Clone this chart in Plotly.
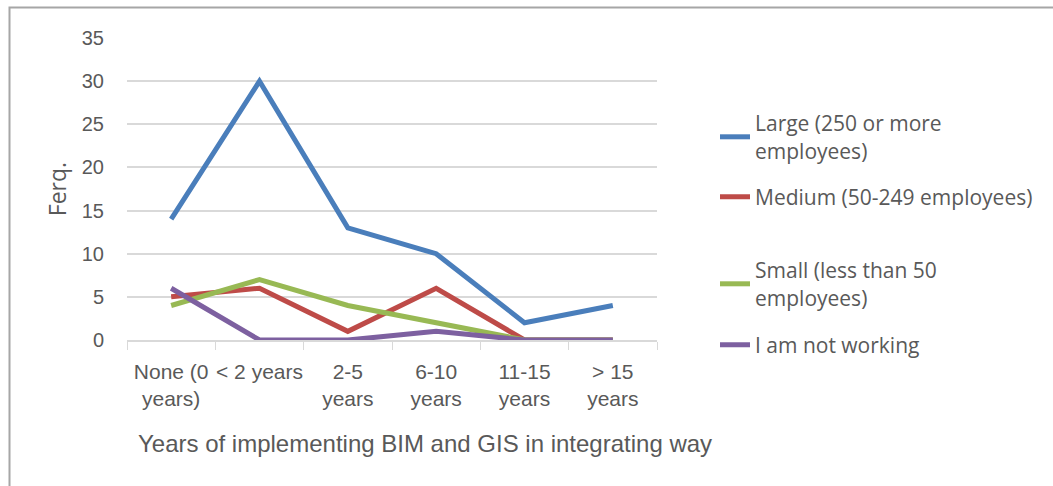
import plotly.graph_objects as go

categories = ["None (0<br>years)", "< 2 years", "2-5<br>years", "6-10<br>years", "11-15<br>years", "> 15<br>years"]
large = [14, 30, 13, 10, 2, 4]
medium = [5, 6, 1, 6, 0, 0]
small = [4, 7, 4, 2, 0, 0]
not_working = [6, 0, 0, 1, 0, 0]

series_names = ["Large (250 or more<br>employees)", "Medium (50-249 employees)",
                "Small (less than 50<br>employees)", "I am not working"]
series_values = [large, medium, small, not_working]
colors = ["#4a7ebb", "#be4b48", "#98b954", "#7d60a0"]
legend_ids = ["legend", "legend2", "legend3", "legend4"]

fig = go.Figure()
for name, vals, col, lg in zip(series_names, series_values, colors, legend_ids):
    fig.add_trace(go.Scatter(x=categories, y=vals, mode="lines", name=name,
                             line=dict(color=col, width=5), legend=lg))

L, R, T, B = 127, 396, 38, 146
W, H = 1053, 486
pw, ph = W - L - R, H - T - B

def px_x(x):
    return (x - L) / pw

def px_y(y):
    return (H - B - y) / ph

TXT = "#595959"
leg_font = dict(family="Open Sans, DejaVu Sans, sans-serif", size=21, color=TXT)
legend_common = dict(font=leg_font, bgcolor="rgba(0,0,0,0)", xanchor="left", yanchor="middle",
                     itemwidth=30, tracegroupgap=0)
legend_y = {"legend": 137, "legend2": 197, "legend3": 284, "legend4": 345}
layout_legends = {}
for lg in legend_ids:
    layout_legends[lg] = dict(legend_common, x=px_x(715), y=px_y(legend_y[lg]))

fig.update_layout(
    width=W, height=H,
    margin=dict(l=L, r=R, t=T, b=B),
    paper_bgcolor="white", plot_bgcolor="white",
    font=dict(family="Liberation Sans, Arial, sans-serif", color=TXT),
    showlegend=True,
    **layout_legends,
)

fig.update_xaxes(
    type="category", showgrid=False, showline=True, linecolor="#d9d9d9", linewidth=1.5,
    ticks="outside", tickson="boundaries", ticklen=8, tickcolor="#d9d9d9",
    ticklabelstandoff=12, tickangle=0,
    tickfont=dict(family="Liberation Sans, Arial, sans-serif", size=21, color=TXT),
    range=[-0.5, 5.5], fixedrange=True,
)
fig.update_yaxes(
    range=[0, 35], dtick=5, showgrid=True, gridcolor="#d9d9d9", gridwidth=1.5,
    zeroline=False, showline=False, ticks="", ticklabelstandoff=22,
    tickfont=dict(family="Liberation Sans, Arial, sans-serif", size=20, color=TXT),
    title=dict(text="Ferq.", font=dict(family="Open Sans, DejaVu Sans, sans-serif", size=23, color=TXT), standoff=8),
    fixedrange=True,
)

fig.add_annotation(
    text="Years of implementing BIM and GIS in integrating way",
    xref="paper", yref="paper", x=px_x(425), y=px_y(443),
    xanchor="center", yanchor="middle", showarrow=False,
    font=dict(family="Liberation Sans, Arial, sans-serif", size=24, color=TXT),
)

# chart border (left and top edges visible)
fig.add_shape(type="rect", xref="paper", yref="paper",
              x0=px_x(9.5), x1=px_x(1060), y0=px_y(7.5), y1=px_y(495),
              line=dict(color="#a6a6a6", width=2), layer="below")

fig.write_html("out.html", config={"displayModeBar": False},
               post_script="document.body.style.margin='0px';")
